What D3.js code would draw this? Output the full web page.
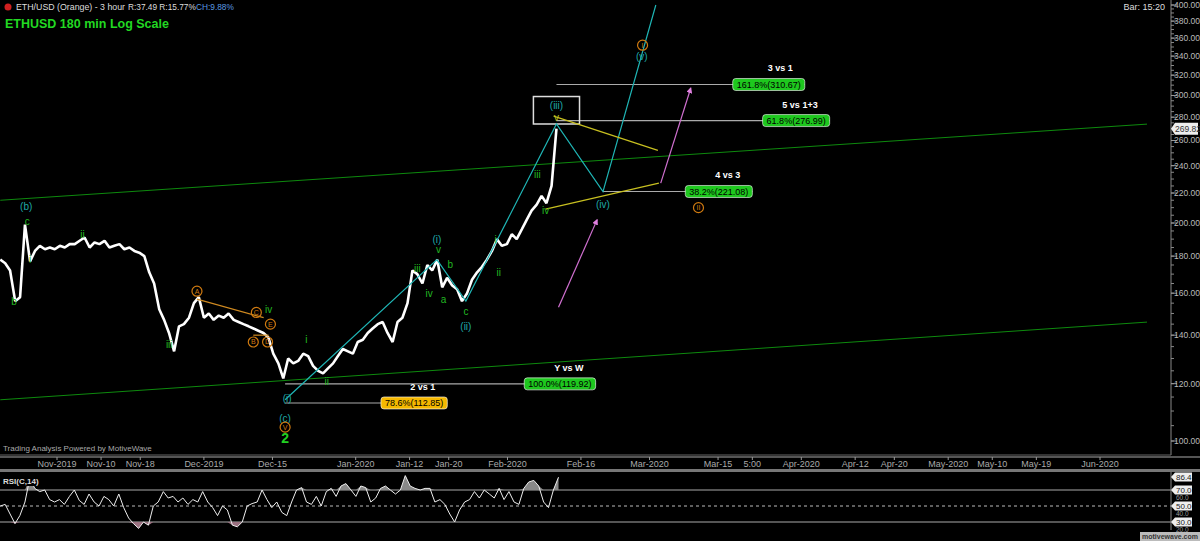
<!DOCTYPE html><html><head><meta charset="utf-8"><script src="https://cdn.jsdelivr.net/npm/d3@7"></script>
<style>body{margin:0;background:#000}svg{display:block}text{font-family:"Liberation Sans",Arial,sans-serif}</style></head><body><svg id="c" width="1200" height="541"></svg>
<script>
// ---- data ----
const baseDate = new Date(2019,9,20);
const prices = [178,176,172,156,158,199,177,183,186,184,185,184,186,185,187,187,189,191,185,188,187,189,185,186,187,184,185,183,182,180,171,165,152,147,141,133,144,145,148,155,158,148,150,147,149,148,150,147,146,145,144,143,142,141,139,132,128,122,130,128,129,132,131,127,125,124,126,128,131,134,133,132,137,138,141,143,145,146,141,137,146,148,155,172,170,165,175,172,178,163,168,164,162,156,160,167,171,174,178,183,190,186,187,193,190,196,202,208,212,218,213,225,270];
const rsi = [50,52,40,28,38,55,85,72,68,70,58,55,58,52,62,70,57,52,65,55,50,62,58,50,65,48,35,28,22,30,26,50,55,68,60,62,55,60,52,58,55,68,55,48,38,50,45,26,24,30,50,53,55,70,58,48,55,42,38,55,70,73,55,52,62,50,68,72,62,75,78,70,62,75,73,55,60,72,75,70,65,70,88,75,72,70,72,72,55,58,52,40,30,45,55,58,68,60,70,65,60,72,58,68,55,52,72,80,82,75,55,48,70,86];
const priceTicks = [100,120,140,160,180,200,220,240,260,280,300,320,340,360,380,400];
const dateTicks = [["2019-11-01","Nov-2019"],["2019-11-10","Nov-10"],["2019-11-18","Nov-18"],["2019-12-01","Dec-2019"],["2019-12-15","Dec-15"],["2020-01-01","Jan-2020"],["2020-01-12","Jan-12"],["2020-01-20","Jan-20"],["2020-02-01","Feb-2020"],["2020-02-16","Feb-16"],["2020-03-01","Mar-2020"],["2020-03-15","Mar-15"],["2020-03-22","5:00"],["2020-04-01","Apr-2020"],["2020-04-12","Apr-12"],["2020-04-20","Apr-20"],["2020-05-01","May-2020"],["2020-05-10","May-10"],["2020-05-19","May-19"],["2020-06-01","Jun-2020"]];
const channel = [[[0.4,215],[235,274]],[[0.4,114],[235,146]]];
const fibs = [[114,164.7,310.67,"161.8%(310.67)","#1ec81e","3 vs 1"],[114,169.8,276.99,"61.8%(276.99)","#1ec81e","5 vs 1+3"],[123.5,154,221.08,"38.2%(221.08)","#1ec81e","4 vs 3"],[58.6,122,119.92,"100.0%(119.92)","#1ec81e","Y vs W"],[58.6,91.7,112.85,"78.6%(112.85)","#f5b800","2 vs 1"]];
const cyanPath = [[58.6,114],[89.6,178],[95.5,156],[114,274],[123.5,221],[134.3,400]];
const yellowLines = [[[113.4,281],[134.7,252]],[[111.8,209],[134.9,227]]];
const arrows = [[[114.4,153],[122.3,202]],[[135.3,227],[141.4,307]]];
const orangeLines = [[[40.6,157],[54.2,148]],[[52.1,140],[55.2,140]]];
const greenLabels = [[3.2,"b",156],[5.9,"c",201],[6.5,"i",178],[17.2,"ii",193],[34.9,"iii",136],[55.2,"iv",152],[62.9,"i",138],[67.1,"ii",121],[85.6,"iii",173],[88,"iv",160],[89.9,"v",184],[90.9,"a",157],[92.3,"b",175],[95.5,"c",151],[101.6,"i",190],[102.2,"ii",171],[110.1,"iii",233],[111.8,"iv",208],[114,"v",280]];
const cyanLabels = [[5.7,"(b)",211],[59,"(i)",114.5],[58.6,"(c)",107.5],[89.6,"(i)",190],[95.5,"(ii)",144],[114,"(iii)",291],[123.5,"(iv)",212],[131.4,"(v)",340]];
const orangeCircles = [[40.6,"A",161],[52.1,"B",137],[52.7,"C",150.5],[55,"D",137],[55.6,"E",145],[58.6,"V",104.5],[131.6,"I",352],[143,"II",210]];
// ---- scales ----
const day = d => d3.timeHour.offset(baseDate, Math.round(d*24));
const x = d3.scaleTime().domain([new Date(2019,10,1), new Date(2020,5,1)]).range([57,1100]);
const y = d3.scaleLog().domain([100,400]).range([441,5]);
const yr = d3.scaleLinear().domain([50,70]).range([506,490]);
const svg = d3.select("#c");
svg.append("clipPath").attr("id","cp").append("rect").attr("x",0).attr("y",0).attr("width",1147).attr("height",455);
const main = svg.append("g").attr("clip-path","url(#cp)");
const seg=(l,c,w)=>main.append("line").attr("x1",x(day(l[0][0]))).attr("y1",y(l[0][1])).attr("x2",x(day(l[1][0]))).attr("y2",y(l[1][1])).attr("stroke",c).attr("stroke-width",w);
channel.forEach(l=>seg(l,"#0e8a0e",1));
fibs.forEach(f=>{
  main.append("line").attr("x1",x(day(f[0]))).attr("x2",x(day(f[1]))).attr("y1",y(f[2])).attr("y2",y(f[2])).attr("stroke","#aaa").attr("stroke-width",1.2);
});
main.append("rect").attr("x",x(day(109.3))).attr("y",y(299)).attr("width",x(day(118.7))-x(day(109.3))).attr("height",y(274)-y(299)).attr("fill","none").attr("stroke","#ddd").attr("stroke-width",1.5);
const px=(i)=>x(day(0.4+i*(113.6/(prices.length-1))));
main.append("path").datum(prices).attr("d",d3.line().x((d,i)=>px(i)).y(d=>y(d))).attr("fill","none").attr("stroke","#fff").attr("stroke-width",2.6).attr("stroke-linejoin","bevel");
main.append("path").datum(cyanPath).attr("d",d3.line().x(d=>x(day(d[0]))).y(d=>y(d[1]))).attr("fill","none").attr("stroke","#1fb5b5").attr("stroke-width",1.2);
yellowLines.forEach(l=>seg(l,"#c8c020",1.2));
orangeLines.forEach(l=>seg(l,"#d08a20",1.2));
svg.append("defs").append("marker").attr("id","ah").attr("viewBox","0 0 10 10").attr("refX",8).attr("refY",5).attr("markerWidth",5).attr("markerHeight",5).attr("orient","auto").append("path").attr("d","M0,0L10,5L0,10z").attr("fill","#e080e0");
arrows.forEach(l=>seg(l,"#d070d0",1.2).attr("marker-end","url(#ah)"));
greenLabels.forEach(l=>main.append("text").attr("x",x(day(l[0]))).attr("y",y(l[2])).attr("text-anchor","middle").attr("dy","0.35em").attr("font-size",10).attr("fill",l[1]==="v"&&l[0]>110?"#b8c020":"#22b822").text(l[1]));
cyanLabels.forEach(l=>main.append("text").attr("x",x(day(l[0]))).attr("y",y(l[2])).attr("text-anchor","middle").attr("dy","0.35em").attr("font-size",10).attr("fill","#1fa8a8").text(l[1]));
orangeCircles.forEach(l=>{const g=main.append("g").attr("transform",`translate(${x(day(l[0]))},${y(l[2])})`);
  g.append("circle").attr("r",5).attr("fill","none").attr("stroke","#d07a10").attr("stroke-width",1.2);
  g.append("text").attr("text-anchor","middle").attr("dy","0.35em").attr("font-size",7).attr("fill","#d07a10").text(l[1]);});
main.append("text").attr("x",x(day(58.6))).attr("y",y(101)).attr("text-anchor","middle").attr("dy","0.35em").attr("font-size",14).attr("font-weight","bold").attr("fill","#22d022").text("2");
fibs.forEach(f=>{
  const xe=x(day(f[1])), yy=y(f[2]);
  const t=main.append("text").attr("x",xe-4).attr("y",yy).attr("dy","0.35em").attr("text-anchor","end").attr("font-size",9).attr("fill","#000").text(f[3]);
  const w=t.node().getComputedTextLength();
  main.insert("rect","text").attr("x",xe-w-8).attr("y",yy-6).attr("width",w+8).attr("height",12).attr("rx",3).attr("fill",f[4]).attr("stroke","#fff").attr("stroke-width",0.6);
  main.append("text").attr("x",xe-12).attr("y",yy-13).attr("text-anchor","end").attr("font-size",9).attr("font-weight","bold").attr("fill","#fff").text(f[5]);
});
// right axis
svg.append("line").attr("x1",1171).attr("x2",1171).attr("y1",0).attr("y2",455).attr("stroke","#888");
svg.append("line").attr("x1",0).attr("x2",1171).attr("y1",455).attr("y2",455).attr("stroke","#666");
d3.range(100,401,5).forEach(v=>svg.append("line").attr("x1",1171).attr("x2",1174).attr("y1",y(v)).attr("y2",y(v)).attr("stroke","#888"));
priceTicks.forEach(v=>{svg.append("line").attr("x1",1171).attr("x2",1177).attr("y1",y(v)).attr("y2",y(v)).attr("stroke","#999");
  svg.append("text").attr("x",1174).attr("y",y(v)).attr("dy","0.35em").attr("font-size",8.5).attr("fill","#bbb").text(v.toFixed(2));});
const lp=269.82;
svg.append("path").attr("d",`M1171,${y(lp)}l4,-6h23v12h-23z`).attr("fill","#eee");
svg.append("text").attr("x",1175).attr("y",y(lp)).attr("dy","0.35em").attr("font-size",8.5).attr("fill","#333").text("269.82");
// bottom axis
svg.append("rect").attr("x",0).attr("y",456).attr("width",1200).attr("height",2).attr("fill","#555");
svg.append("rect").attr("x",0).attr("y",469).attr("width",1200).attr("height",3).attr("fill","#777");
dateTicks.forEach(t=>{const xx=x(new Date(t[0]+"T00:00"));
  svg.append("line").attr("x1",xx).attr("x2",xx).attr("y1",457).attr("y2",460).attr("stroke","#999");
  svg.append("text").attr("x",xx).attr("y",464).attr("dy","0.35em").attr("text-anchor","middle").attr("font-size",9).attr("fill","#aaa").text(t[1]);});
svg.append("text").attr("x",3).attr("y",451).attr("font-size",8).attr("fill","#aaa").text("Trading Analysis Powered by MotiveWave");
// RSI
[70,30].forEach(v=>svg.append("line").attr("x1",0).attr("x2",1171).attr("y1",yr(v)).attr("y2",yr(v)).attr("stroke","#aaa").attr("stroke-width",1.2));
svg.append("line").attr("x1",0).attr("x2",1171).attr("y1",yr(50)).attr("y2",yr(50)).attr("stroke","#bbb").attr("stroke-dasharray","3,3");
const rx=(i)=>x(day(0.4+i*(114/(rsi.length-1))));
svg.append("path").datum(rsi).attr("d",d3.area().x((d,i)=>rx(i)).y0(yr(70)).y1(d=>yr(Math.max(d,70)))).attr("fill","#888");
svg.append("path").datum(rsi).attr("d",d3.area().x((d,i)=>rx(i)).y0(yr(30)).y1(d=>yr(Math.min(d,30)))).attr("fill","#9a7080");
svg.append("path").datum(rsi).attr("d",d3.line().x((d,i)=>rx(i)).y(d=>yr(d))).attr("fill","none").attr("stroke","#eee").attr("stroke-width",1);
svg.append("rect").attr("x",0).attr("y",476).attr("width",48).attr("height",10).attr("fill","#000");
svg.append("text").attr("x",3).attr("y",484).attr("font-size",8).attr("font-weight","bold").attr("fill","#ddd").text("RSI(C,14)");
svg.append("line").attr("x1",1171).attr("x2",1171).attr("y1",472).attr("y2",530).attr("stroke","#888");
[[60,false],[40,false],[20,false],[86.4,true],[70,true],[50,true],[30,true]].forEach(([v,b])=>{
  const yy=yr(v);
  if(b){svg.append("path").attr("d",`M1171,${yy}l4,-4.5h17v9h-17z`).attr("fill","#eee");}
  svg.append("text").attr("x",1176).attr("y",yy).attr("dy","0.35em").attr("font-size",b?8:6.5).attr("fill",b?"#222":"#999").text(v.toFixed(1));});
svg.append("rect").attr("x",1140).attr("y",532).attr("width",60).attr("height",9).attr("fill","#bbb");
svg.append("text").attr("x",1170).attr("y",539).attr("text-anchor","middle").attr("font-size",7).attr("font-weight","bold").attr("fill","#333").text("motivewave.com");
// header
svg.append("circle").attr("cx",8).attr("cy",7).attr("r",3.5).attr("fill","#d02020");
svg.append("text").attr("x",16).attr("y",10).attr("font-size",8.8).attr("fill","#ddd").text("ETH/USD (Orange) - 3 hour");
svg.append("text").attr("x",128).attr("y",10).attr("font-size",8.3).attr("fill","#ddd").text("R:37.49  R:15.77%");
svg.append("text").attr("x",196).attr("y",10).attr("font-size",8.3).attr("fill","#5b9be0").text("CH:9.88%");
svg.append("text").attr("x",5).attr("y",28).attr("font-size",12.5).attr("font-weight","bold").attr("fill","#22d822").text("ETHUSD 180 min Log Scale");
svg.append("text").attr("x",1165).attr("y",10).attr("text-anchor","end").attr("font-size",9).attr("fill","#ddd").text("Bar: 15:20");
</script></body></html>
